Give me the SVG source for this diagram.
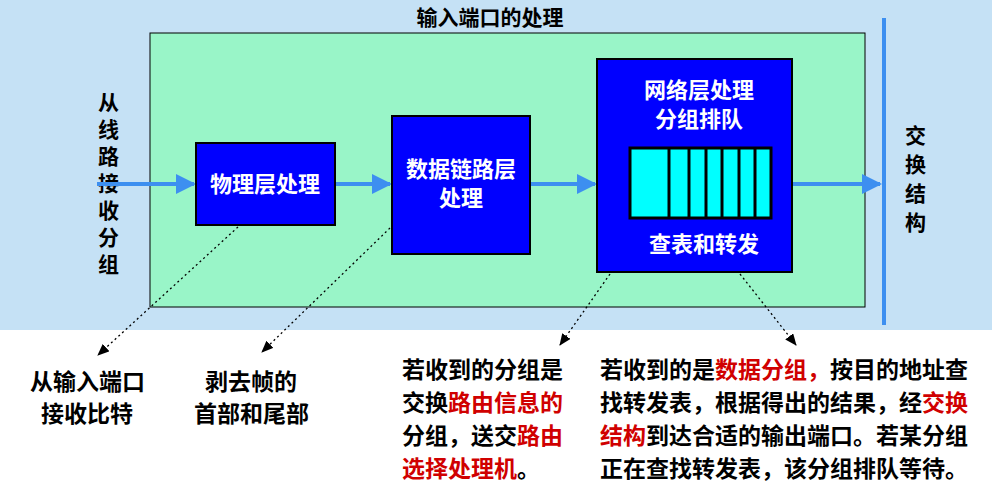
<svg xmlns="http://www.w3.org/2000/svg" width="992" height="490" viewBox="0 0 992 490">
<defs>
<style>
text{font-family:"Noto Sans CJK SC","Noto Sans",sans-serif;font-weight:bold}
.w{fill:#fff;font-size:22px;text-anchor:middle}
.k{fill:#000;font-size:23px}
.v{fill:#000;font-size:21px}
.r{fill:#d00000}
.box{fill:#0000ff;stroke:#000;stroke-width:2}
.flow{stroke:#3d8ff0;stroke-width:4;fill:none;marker-end:url(#ah)}
.dot{stroke:#000;stroke-width:1.3;stroke-dasharray:2 3;fill:none;marker-end:url(#bh)}
</style>
<marker id="ah" markerWidth="5" markerHeight="5" refX="4.5" refY="2.5" orient="auto" markerUnits="strokeWidth"><path d="M0,0L5,2.5L0,5z" fill="#3d8ff0"/></marker>
<marker id="bh" markerWidth="12" markerHeight="10" refX="11" refY="5" orient="auto" markerUnits="userSpaceOnUse"><path d="M0,0L12,5L0,10z" fill="#000"/></marker>
</defs>
<rect x="0" y="0" width="992" height="330" fill="#c5e1f5"/>
<rect x="0" y="330" width="992" height="160" fill="#fff"/>
<text x="490" y="25" class="v" text-anchor="middle" font-size="20">输入端口的处理</text>
<rect x="150" y="33" width="715" height="274" fill="#99f5c8" stroke="#000" stroke-width="1"/>
<line x1="884" y1="18" x2="884" y2="325" stroke="#3d8ff0" stroke-width="4"/>
<g id="left-label" class="v"><text x="98" y="110">从</text><text x="98" y="137">线</text><text x="98" y="164">路</text><text x="98" y="191">接</text><text x="98" y="218">收</text><text x="98" y="245">分</text><text x="98" y="272">组</text></g>
<g id="right-label" class="v"><text x="905" y="143">交</text><text x="905" y="172">换</text><text x="905" y="201">结</text><text x="905" y="230">构</text></g>
<g id="connectors">
<line class="flow" x1="97" y1="184" x2="194" y2="184"/>
<line class="flow" x1="336" y1="184" x2="390" y2="184"/>
<line class="flow" x1="531" y1="184" x2="595" y2="184"/>
<line class="flow" x1="793" y1="184" x2="880" y2="184"/>
<line class="dot" x1="238" y1="227" x2="98" y2="355"/>
<line class="dot" x1="390" y1="228" x2="262" y2="352"/>
<line class="dot" x1="610" y1="274" x2="560" y2="345"/>
<line class="dot" x1="740" y1="274" x2="796" y2="345"/>
</g>
<g id="phy"><rect class="box" x="196" y="143" width="139" height="82"/><text class="w" x="265" y="192">物理层处理</text></g>
<g id="link"><rect class="box" x="392" y="116" width="138" height="138"/><text class="w" x="461" y="177">数据链路层</text><text class="w" x="461" y="206">处理</text></g>
<g id="net"><rect class="box" x="597" y="59" width="195" height="213"/><text class="w" x="699" y="98">网络层处理</text><text class="w" x="699" y="127">分组排队</text>
<rect x="630" y="148" width="141" height="70" fill="#00ffff" stroke="#000" stroke-width="3"/>
<g stroke="#000" stroke-width="3"><line x1="669" y1="148" x2="669" y2="218"/><line x1="689" y1="148" x2="689" y2="218"/><line x1="706" y1="148" x2="706" y2="218"/><line x1="722" y1="148" x2="722" y2="218"/><line x1="739" y1="148" x2="739" y2="218"/><line x1="755" y1="148" x2="755" y2="218"/></g>
<text class="w" x="704" y="252">查表和转发</text></g>
<g id="n1" class="k"><text x="30" y="390">从输入端口</text><text x="41" y="422">接收比特</text></g>
<g id="n2" class="k"><text x="205" y="390">剥去帧的</text><text x="194" y="422">首部和尾部</text></g>
<g id="n3" class="k"><text x="402" y="378">若收到的分组是</text><text x="402" y="411">交换<tspan class="r">路由信息的</tspan></text><text x="402" y="444">分组，送交<tspan class="r">路由</tspan></text><text x="402" y="477"><tspan class="r">选择处理机</tspan>。</text></g>
<g id="n4" class="k"><text x="600" y="378">若收到的是<tspan class="r">数据分组，</tspan>按目的地址查</text><text x="600" y="411">找转发表，根据得出的结果，经<tspan class="r">交换</tspan></text><text x="600" y="444"><tspan class="r">结构</tspan>到达合适的输出端口。若某分组</text><text x="600" y="477">正在查找转发表，该分组排队等待。</text></g>
</svg>
